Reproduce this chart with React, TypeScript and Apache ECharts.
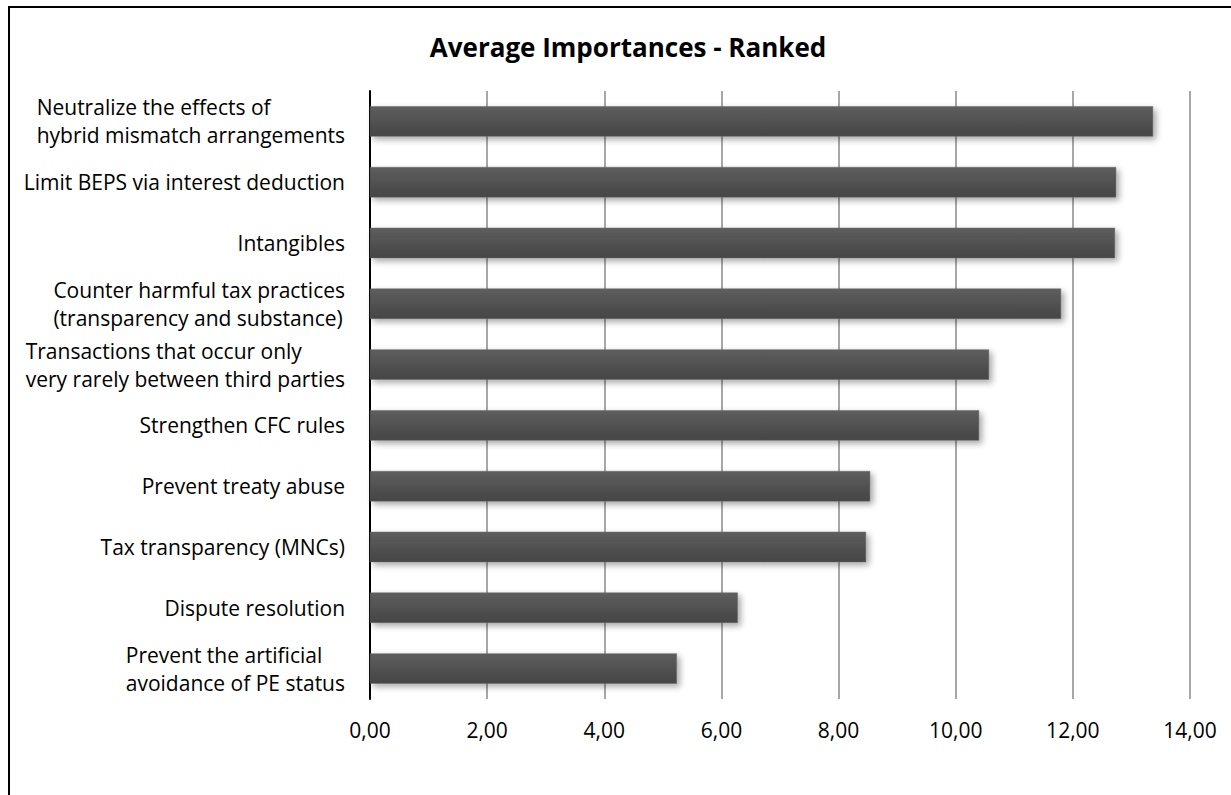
import React, { useEffect, useRef } from "react";
import * as echarts from "echarts";

const categories: string[][] = [
  ["Neutralize the effects of", "hybrid mismatch arrangements"],
  ["Limit BEPS via interest deduction"],
  ["Intangibles"],
  ["Counter harmful tax practices", "(transparency and substance)"],
  ["Transactions that occur only", "very rarely between third parties"],
  ["Strengthen CFC rules"],
  ["Prevent treaty abuse"],
  ["Tax transparency (MNCs)"],
  ["Dispute resolution"],
  ["Prevent the artificial", "avoidance of PE status"],
];
const values: number[] = [13.37, 12.74, 12.72, 11.8, 10.57, 10.4, 8.54, 8.47, 6.28, 5.24];
const titleText = "Average Importances - Ranked";
const xMin = 0;
const xMax = 14;
const xInterval = 2;

const FONT = "Open Sans";

export default function App() {
  const ref = useRef<HTMLDivElement>(null);
  useEffect(() => {
    if (!ref.current) return;
    const chart = echarts.init(ref.current, null, { renderer: "svg" });
    const catKeys = categories.map((c) => c.join("\n"));
    chart.setOption({
      animation: false,
      backgroundColor: "#ffffff",
      title: {
        text: titleText,
        left: 623,
        textAlign: "center",
        top: 29,
        textStyle: { fontFamily: FONT, fontWeight: "bold", fontSize: 26, color: "#000" },
      },
      graphic: [
        {
          type: "rect",
          shape: { x: 9, y: 7, width: 1260, height: 820 },
          style: { fill: "none", stroke: "#000", lineWidth: 2 },
          z: -1,
        },
      ],
      grid: { left: 370, right: 41, top: 91, bottom: 96, containLabel: false },
      xAxis: {
        type: "value",
        min: xMin,
        max: xMax,
        interval: xInterval,
        axisLine: { show: false },
        axisTick: { show: false },
        splitLine: { show: true, lineStyle: { color: "#8a8a8a", width: 1.5 } },
        axisLabel: {
          margin: 20,
          fontFamily: FONT,
          fontSize: 21,
          color: "#000",
          formatter: (v: number) => v.toFixed(2).replace(".", ","),
        },
      },
      yAxis: {
        type: "category",
        inverse: true,
        data: catKeys,
        axisLine: { show: true, lineStyle: { color: "#000", width: 2 } },
        axisTick: { show: false },
        axisLabel: {
          margin: 25,
          fontFamily: FONT,
          fontSize: 21,
          color: "#000",
          lineHeight: 28,
          formatter: (v: string) =>
            v
              .split("\n")
              .map((l) => "{c|" + l + "}")
              .join("\n"),
          rich: {
            c: { align: "left", fontFamily: FONT, fontSize: 21, color: "#000", lineHeight: 28 },
          },
        },
      },
      series: [
        {
          type: "bar",
          data: values,
          barCategoryGap: "50%",
          itemStyle: {
            color: new echarts.graphic.LinearGradient(0, 0, 0, 1, [
              { offset: 0, color: "#5e5e5e" },
              { offset: 1, color: "#454545" },
            ]),
            borderColor: "#6a6a6a",
            borderWidth: 0.5,
            shadowColor: "rgba(0,0,0,0.35)",
            shadowBlur: 6,
            shadowOffsetX: 3,
            shadowOffsetY: 3,
          },
        },
      ],
    });
    return () => chart.dispose();
  }, []);
  return (
    <div
      ref={ref}
      style={{ position: "fixed", left: 0, top: 0, width: 1231, height: 795 }}
    />
  );
}
